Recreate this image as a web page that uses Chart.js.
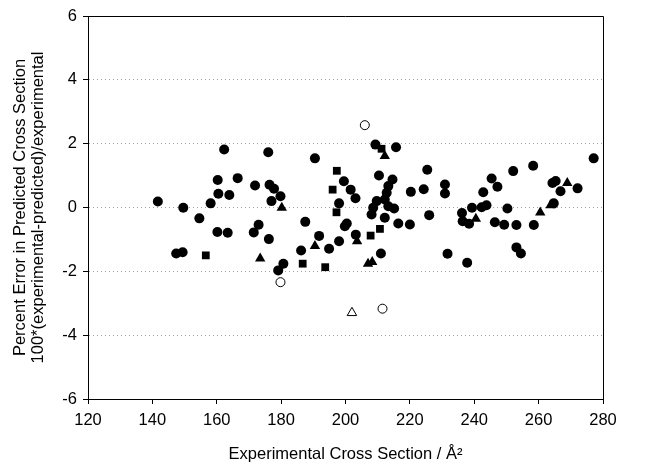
<!DOCTYPE html>
<html>
<head>
<meta charset="utf-8">
<script src="https://cdn.jsdelivr.net/npm/chart.js@4.4.1/dist/chart.umd.min.js"></script>
<style>
  html, body { margin: 0; padding: 0; background: #fff; }
  #wrap { width: 647px; height: 464px; position: relative; }
</style>
</head>
<body>
<div id="wrap"><canvas id="errChart" width="647" height="464"></canvas></div>
<script>
// values
const circleX = [162.3, 176.0, 160.3, 166.5, 171.9, 176.4, 141.7, 149.6, 158.1, 160.5,
  163.9, 154.6, 160.2, 163.4, 173.0, 171.5, 176.2, 147.4, 149.4, 177.8,
  179.8, 177.0, 187.5, 186.2, 191.8, 194.9, 198.0, 199.5, 201.6, 203.1,
  198.0, 199.8, 200.4, 203.2, 211.0, 180.7, 179.1, 190.5, 209.3, 215.7,
  210.4, 214.6, 213.3, 212.8, 212.2, 220.3, 209.7, 208.6, 215.1, 213.3,
  208.1, 212.2, 216.4, 220.0, 226.0, 224.3, 225.4, 230.9, 230.9, 231.7,
  237.8, 236.2, 236.4, 238.4, 239.3, 242.3, 243.8, 242.8, 245.4, 247.2,
  252.1, 258.3, 246.4, 249.3, 253.1, 258.5, 250.3, 253.1, 254.5, 264.3,
  265.3, 266.8, 272.1, 264.7, 277.1];
const circleY = [1.82, 1.73, 0.86, 0.92, 0.69, 0.71, 0.19, -0.01, 0.13, 0.43,
  0.39, -0.34, -0.77, -0.79, -0.54, -0.78, -0.99, -1.44, -1.40, 0.59,
  0.35, 0.20, -0.45, -1.35, -0.89, -1.29, -1.06, 0.82, 0.56, 0.29,
  0.13, -0.59, -0.50, -0.85, -1.44, -1.76, -1.97, 1.54, 1.97, 1.89,
  1.00, 0.88, 0.67, 0.46, 0.25, 0.49, 0.20, -0.01, -0.03, 0.04,
  -0.22, -0.32, -0.50, -0.53, -0.24, 0.57, 1.18, 0.72, 0.44, -1.45,
  -1.73, -0.17, -0.43, -0.51, -0.01, 0.01, 0.07, 0.48, 0.91, 0.65,
  1.14, 1.31, -0.46, -0.54, -0.55, -0.55, -0.03, -1.25, -1.44, 0.77,
  0.83, 0.51, 0.60, 0.13, 1.54];

const squareX = [156.6, 186.7, 193.7, 197.3, 196.0, 197.2, 207.8, 211.2, 210.7];
const squareY = [-1.50, -1.76, -1.87, 1.15, 0.56, -0.15, -0.88, 1.84, -0.67];

const triangleX = [173.5, 180.2, 190.5, 203.6, 207.0, 208.3, 212.2, 240.5, 260.5, 263.7, 268.9];
const triangleY = [-1.60, -0.01, -1.21, -1.06, -1.76, -1.71, 1.61, -0.35, -0.16, 0.07, 0.77];

const openCircleX = [206.0, 179.8, 211.5];
const openCircleY = [2.58, -2.34, -3.17];

const openTriangleX = [202.0];
const openTriangleY = [-3.30];

const xTicks = [120, 140, 160, 180, 200, 220, 240, 260, 280];
const yTicks = [-6, -4, -2, 0, 2, 4, 6];

const toPoints = (xs, ys) => xs.map((x, i) => ({ x: x, y: ys[i] }));

const fontFamily = '"Liberation Sans", Arial, sans-serif';

// draws the top and right sides of the plot box
const frame = {
  id: 'frame',
  afterDraw(chart) {
    const { ctx, chartArea } = chart;
    ctx.save();
    ctx.strokeStyle = '#000';
    ctx.lineWidth = 1;
    ctx.beginPath();
    ctx.moveTo(chartArea.left, chartArea.top + 0.5);
    ctx.lineTo(chartArea.right + 0.5, chartArea.top + 0.5);
    ctx.lineTo(chartArea.right + 0.5, chartArea.bottom);
    ctx.stroke();
    ctx.restore();
  },
};

new Chart(document.getElementById('errChart').getContext('2d'), {
  type: 'scatter',
  data: {
    datasets: [
      {
        label: 'open triangles',
        data: toPoints(openTriangleX, openTriangleY),
        pointStyle: 'triangle',
        pointRadius: 5.5,
        backgroundColor: '#fff',
        borderColor: '#000',
        borderWidth: 1,
      },
      {
        label: 'open circles',
        data: toPoints(openCircleX, openCircleY),
        pointStyle: 'circle',
        pointRadius: 4.5,
        backgroundColor: '#fff',
        borderColor: '#000',
        borderWidth: 1,
      },
      {
        label: 'triangles',
        data: toPoints(triangleX, triangleY),
        pointStyle: 'triangle',
        pointRadius: 6,
        backgroundColor: '#000',
        borderColor: '#000',
        borderWidth: 0,
      },
      {
        label: 'squares',
        data: toPoints(squareX, squareY),
        pointStyle: 'rect',
        pointRadius: 5.5,
        backgroundColor: '#000',
        borderColor: '#000',
        borderWidth: 0,
      },
      {
        label: 'circles',
        data: toPoints(circleX, circleY),
        pointStyle: 'circle',
        pointRadius: 5,
        backgroundColor: '#000',
        borderColor: '#000',
        borderWidth: 0,
      },
    ],
  },
  options: {
    responsive: false,
    animation: false,
    layout: { padding: { top: 16, right: 44, left: 0, bottom: 0 } },
    plugins: {
      legend: { display: false },
      tooltip: { enabled: false },
    },
    scales: {
      x: {
        type: 'linear',
        min: 120,
        max: 280,
        afterBuildTicks: (scale) => {
          scale.ticks = xTicks.map((v) => ({ value: v }));
        },
        afterFit: (scale) => {
          scale.height = 65;
        },
        grid: {
          drawOnChartArea: false,
          tickLength: 5,
          tickColor: '#000',
          tickBorderDash: [],
        },
        border: { display: true, color: '#000', width: 1 },
        ticks: {
          color: '#000',
          padding: 7,
          font: { family: fontFamily, size: 16.5 },
        },
        title: {
          display: true,
          text: 'Experimental Cross Section / Å²',
          color: '#000',
          padding: { top: 8, bottom: 0 },
          font: { family: fontFamily, size: 16.5 },
        },
      },
      y: {
        type: 'linear',
        min: -6,
        max: 6,
        afterBuildTicks: (scale) => {
          scale.ticks = yTicks.map((v) => ({ value: v }));
        },
        afterFit: (scale) => {
          scale.width = 88;
        },
        grid: {
          color: (c) => (c.tick && Math.abs(c.tick.value) === 6 ? 'rgba(0,0,0,0)' : '#a0a0a0'),
          lineWidth: 1,
          tickLength: 5,
          tickColor: '#000',
          tickBorderDash: [],
        },
        border: { display: true, color: '#000', width: 1, dash: [1, 3] },
        ticks: {
          color: '#000',
          padding: 6,
          font: { family: fontFamily, size: 16.5 },
        },
        title: {
          display: true,
          text: ['Percent Error in Predicted Cross Section', '100*(experimental-predicted)/experimental'],
          color: '#000',
          padding: { top: 11, bottom: 0 },
          font: { family: fontFamily, size: 16.5, lineHeight: 1.1 },
        },
      },
    },
  },
  plugins: [frame],
});
</script>
</body>
</html>
